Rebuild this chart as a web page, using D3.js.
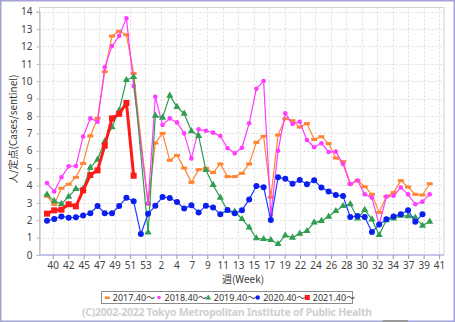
<!DOCTYPE html>
<html>
<head>
<meta charset="utf-8">
<script src="https://cdn.jsdelivr.net/npm/d3@7"></script>
<style>
  html, body { margin: 0; padding: 0; background: #fff; }
  svg { display: block; }
  text { font-family: "Noto Sans", "Noto Sans CJK JP", sans-serif; }
</style>
</head>
<body>
<svg id="chart" width="455" height="322"></svg>
<script>
// Week categories of a season: week 40 through week 53, then week 1 through week 40
const weeks = [40,41,42,43,44,45,46,47,48,49,50,51,52,53,
  1,2,3,4,5,6,7,8,9,10,11,12,13,14,15,16,17,18,19,20,
  21,22,23,24,25,26,27,28,29,30,31,32,33,34,35,36,37,38,39,40];

// Tick labels shown under the axis (evenly spaced along it)
const xTickLabels = ["40","42","45","47","49","51","53","2","4","7","9","11","13",
  "15","17","19","22","24","26","28","30","32","34","37","39","41"];
const yTicks = [0,1,2,3,4,5,6,7,8,9,10,11,12,13,14];

const seasonNames = ["2017.40〜","2018.40〜","2019.40〜","2020.40〜","2021.40〜"];

// Cases per sentinel, one value per week category (null = no report)
const s2017 = [3.38,2.91,3.84,4.07,4.47,5.27,6.85,7.86,10.55,12.6,12.87,12.67,10.45,null,
  2.93,6.44,7.0,5.45,5.73,5.0,4.18,4.91,4.99,4.74,5.24,4.51,4.51,4.70,5.24,6.48,
  6.83,3.32,6.9,7.84,7.73,7.36,7.56,6.65,6.81,6.41,5.58,5.37,4.10,4.29,3.93,3.49,
  2.44,3.36,3.59,4.28,3.91,3.49,3.45,4.10];
const s2018 = [4.14,3.65,4.47,5.10,5.12,6.82,7.86,7.67,10.8,12.02,12.61,13.62,9.72,null,
  2.97,9.11,7.48,7.86,7.63,7.0,5.56,7.23,7.15,7.04,6.85,6.14,5.85,6.17,7.58,9.57,
  10.01,2.30,6.0,8.15,7.54,7.67,6.62,6.20,6.43,5.93,5.95,5.24,4.08,4.29,3.49,3.30,
  1.73,3.36,3.41,3.88,3.49,2.92,3.07,3.49];
const s2019 = [3.48,3.10,2.94,3.36,3.80,3.82,5.03,5.49,6.54,7.36,8.32,10.07,10.24,null,
  1.30,8.02,7.9,9.17,8.52,8.13,7.13,6.85,4.89,4.03,3.30,2.55,2.49,2.07,1.59,0.96,
  0.92,0.86,0.63,1.13,1.0,1.23,1.38,1.88,1.96,2.21,2.53,2.82,2.93,2.11,2.59,2.05,
  1.15,2.01,2.11,2.26,2.24,2.15,1.69,1.92];
const s2020 = [1.97,2.07,2.22,2.15,2.17,2.28,2.40,2.82,2.40,2.40,2.82,3.29,3.09,1.21,
  2.37,2.83,3.34,3.28,3.05,2.67,2.86,2.44,2.84,2.74,2.34,2.59,2.40,2.57,3.2,3.97,
  3.9,2.01,4.47,4.39,4.10,4.31,4.07,4.30,3.88,3.66,3.45,3.39,2.19,2.24,2.19,1.32,
  1.75,2.05,2.22,2.34,2.57,1.92,2.34,null];
const s2021 = [2.38,2.57,2.61,2.92,2.80,3.72,4.60,4.87,6.29,7.86,8.12,8.75,4.56];

const W = 455, H = 322;
const plot = { left: 39.5, right: 444, top: 7.5, bottom: 255 };

const svg = d3.select("#chart");

// page frame
svg.append("rect").attr("x", 0.75).attr("y", 0.75).attr("width", W - 1.5).attr("height", H - 1.5)
  .attr("fill", "#fff").attr("stroke", "#a3a3d6").attr("stroke-width", 1.5);

const x = d3.scaleLinear().domain([0, weeks.length - 1]).range([47, 429.7]);
const y = d3.scaleLinear().domain([0, 14]).range([plot.bottom, 11.7]);

// evenly spaced tick positions along the week index
const tickStart = 0.8, tickEnd = 54.3;
const tickPos = xTickLabels.map((_, k) => tickStart + k * (tickEnd - tickStart) / (xTickLabels.length - 1));

// plot frame
svg.append("rect").attr("x", plot.left).attr("y", plot.top)
  .attr("width", plot.right - plot.left).attr("height", plot.bottom - plot.top)
  .attr("fill", "#fff").attr("stroke", "#d0d0d0").attr("stroke-width", 1);

// grid
const grid = svg.append("g");
grid.selectAll("line.h").data(yTicks.filter(d => d > 0)).join("line")
  .attr("x1", plot.left).attr("x2", plot.right)
  .attr("y1", d => Math.round(y(d)) + 0.5).attr("y2", d => Math.round(y(d)) + 0.5)
  .attr("stroke", "#dcdcdc").attr("stroke-dasharray", "2,2");
grid.selectAll("line.v").data(tickPos).join("line")
  .attr("y1", plot.top).attr("y2", plot.bottom)
  .attr("x1", d => Math.round(x(d)) + 0.5).attr("x2", d => Math.round(x(d)) + 0.5)
  .attr("stroke", "#dcdcdc").attr("stroke-dasharray", "2,2");

// y axis
const yAxis = d3.axisLeft(y).tickValues(yTicks).tickSize(3).tickPadding(4);
const gy = svg.append("g").attr("transform", `translate(${plot.left},0)`).call(yAxis);
gy.select(".domain").attr("stroke", "#b8b8b8");
gy.selectAll(".tick line").attr("stroke", "#b8b8b8");
gy.selectAll(".tick text").attr("fill", "#444").style("font-size", "10px");

// x axis
const xAxis = d3.axisBottom(x).tickValues(tickPos).tickFormat((d, i) => xTickLabels[i])
  .tickSize(4).tickPadding(3);
const gx = svg.append("g").attr("transform", `translate(0,${plot.bottom})`).call(xAxis);
gx.select(".domain").attr("stroke", "#c4c4ec").attr("stroke-width", 2)
  .attr("d", `M${plot.left},0H${plot.right}`);
gx.selectAll(".tick line").attr("stroke", "#999");
gx.selectAll(".tick text").attr("fill", "#444").style("font-size", "10px");

// axis titles
svg.append("text").attr("x", 243).attr("y", 283).attr("text-anchor", "middle")
  .attr("fill", "#333").style("font-size", "10px")
  .style("font-family", "'Noto Sans CJK JP', sans-serif").text("週(Week)");
svg.append("text").attr("transform", "translate(17,129) rotate(-90)").attr("text-anchor", "middle")
  .attr("fill", "#333").style("font-size", "10px")
  .style("font-family", "'Noto Sans CJK JP', sans-serif").text("人/定点(Cases/sentinel)");

// series
const colors = ["#ff8533", "#ff3cff", "#2f9e50", "#1f3fff", "#ff1a1a"];
const widths = [1.2, 1.2, 1.2, 1.2, 3];
const seriesValues = [s2017, s2018, s2019, s2020, s2021];

function drawMarker(g, kind, color, cx, cy) {
  if (kind === 0) {
    g.append("rect").attr("x", cx - 3).attr("y", cy - 1.5).attr("width", 6).attr("height", 3).attr("fill", color);
  } else if (kind === 1) {
    g.append("circle").attr("cx", cx).attr("cy", cy).attr("r", 2.3).attr("fill", color);
  } else if (kind === 2) {
    g.append("path").attr("d", d3.symbol(d3.symbolTriangle, 22)()).attr("transform", `translate(${cx},${cy})`).attr("fill", color);
  } else if (kind === 3) {
    g.append("circle").attr("cx", cx).attr("cy", cy).attr("r", 3).attr("fill", "#0a1ef0");
  } else {
    g.append("rect").attr("x", cx - 3).attr("y", cy - 3).attr("width", 6).attr("height", 6).attr("fill", color);
  }
}

const line = d3.line().x(d => x(d.i)).y(d => y(d.v));
seriesValues.forEach((vals, s) => {
  const pts = vals.map((v, i) => ({ i, v })).filter(d => d.v != null);
  const g = svg.append("g");
  g.append("path").datum(pts).attr("d", line).attr("fill", "none")
    .attr("stroke", colors[s]).attr("stroke-width", widths[s]).attr("stroke-linejoin", "round");
  pts.forEach(d => drawMarker(g, s, colors[s], x(d.i), y(d.v)));
});

// legend
const lg = svg.append("g");
lg.append("rect").attr("x", 101.5).attr("y", 291.5).attr("width", 251).attr("height", 12)
  .attr("fill", "#fff").attr("stroke", "#8c8c8c");
const legX = [107.3, 159, 208.3, 257.7, 307.3];
seasonNames.forEach((name, s) => {
  const mg = lg.append("g");
  if (s === 0) mg.append("rect").attr("x", legX[s] - 2.5).attr("y", 296.5).attr("width", 5).attr("height", 2.5).attr("fill", colors[s]);
  else if (s === 1) mg.append("circle").attr("cx", legX[s]).attr("cy", 297.5).attr("r", 1.8).attr("fill", colors[s]);
  else if (s === 2) mg.append("path").attr("d", d3.symbol(d3.symbolTriangle, 14)()).attr("transform", `translate(${legX[s]},297.8)`).attr("fill", colors[s]);
  else if (s === 3) mg.append("circle").attr("cx", legX[s]).attr("cy", 297.5).attr("r", 2.2).attr("fill", "#0a1ef0");
  else mg.append("rect").attr("x", legX[s] - 2.5).attr("y", 295).attr("width", 5).attr("height", 5).attr("fill", colors[s]);
  lg.append("text").attr("x", legX[s] + 5.5).attr("y", 300.8).attr("fill", "#333")
    .style("font-size", "9px").text(name);
});

// credit line
svg.append("text").attr("x", 82).attr("y", 315.5).attr("fill", "#cfcfcf")
  .style("font-size", "10.5px").style("font-weight", "bold")
  .attr("textLength", 290).attr("lengthAdjust", "spacing")
  .text("(C)2002-2022 Tokyo Metropolitan Institute of Public Health");

// bottom edge strip
svg.append("rect").attr("x", 383).attr("y", 320).attr("width", 25).attr("height", 2).attr("fill", "#9a9a9a");
</script>
</body>
</html>
